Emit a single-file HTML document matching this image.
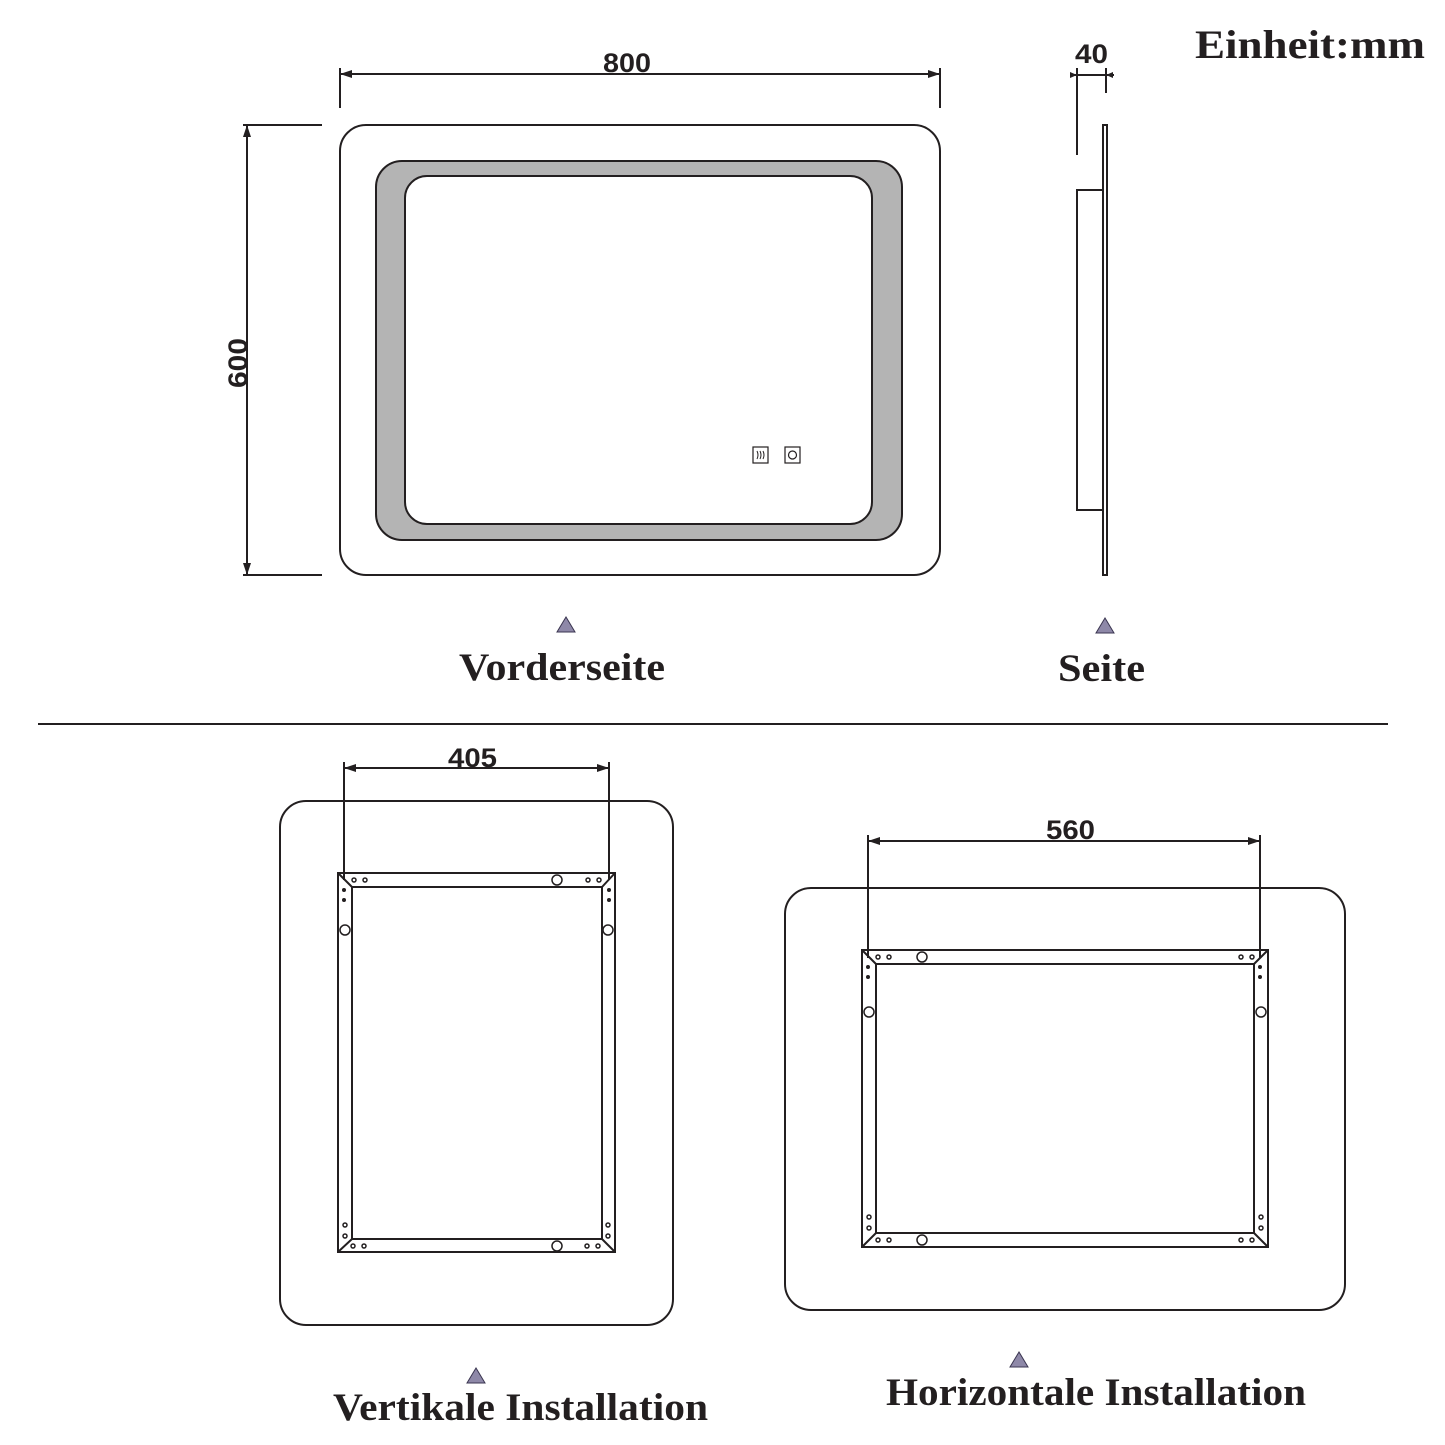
<!DOCTYPE html>
<html><head><meta charset="utf-8"><style>
html,body{margin:0;padding:0;background:#fff;}
svg{display:block}
.d{font-family:"Liberation Sans",sans-serif;font-weight:bold;font-size:27px;fill:#231f20}
.s{font-family:"Liberation Serif",serif;font-weight:bold;fill:#231f20}
</style></head><body>
<svg width="1445" height="1445" viewBox="0 0 1445 1445" xmlns="http://www.w3.org/2000/svg">
<g stroke="#231f20" fill="none" stroke-width="2">
<rect x="340" y="125" width="600" height="450" rx="26"/>
<rect x="376" y="161" width="526" height="379" rx="26" fill="#b4b4b4"/>
<rect x="405" y="176" width="467" height="348" rx="22" fill="#fff"/>
<rect x="753" y="447" width="15" height="16" stroke-width="1.2"/>
<rect x="785" y="447" width="15" height="16" stroke-width="1.2"/>
<circle cx="792.5" cy="455" r="4" stroke-width="1.2"/>
<path d="M757 451q2 4 0 8M760 451q2 4 0 8M763 451q2 4 0 8" stroke-width="1"/>
<path d="M340 68V108M940 68V108M340 74H940"/>
<path d="M247 125V575M243 125H322M243 575H322"/>
<path d="M1077 68V155M1106 68V93M1070 75H1114"/>
<rect x="1103" y="125" width="4" height="450"/>
<path d="M1103 190H1077V510H1103"/>
<path d="M38 724H1388"/>
<rect x="280" y="801" width="393" height="524" rx="26"/>
<rect x="338" y="873" width="277" height="379"/>
<rect x="352" y="887" width="250" height="352"/>
<path d="M338 873L352 887M615 873L602 887M338 1252L352 1239M615 1252L602 1239"/>
<path d="M344 762V880M609 762V880M344 768H609"/>
<rect x="785" y="888" width="560" height="422" rx="26"/>
<rect x="862" y="950" width="406" height="297"/>
<rect x="876" y="964" width="378" height="269"/>
<path d="M862 950L876 964M1268 950L1254 964M862 1247L876 1233M1268 1247L1254 1233"/>
<path d="M868 835V958M1260 835V958M868 841H1260"/>
</g>
<g fill="none" stroke="#231f20" stroke-width="1.5">
<circle cx="354" cy="880" r="2"/><circle cx="365" cy="880" r="2"/>
<circle cx="588" cy="880" r="2"/><circle cx="599" cy="880" r="2"/>
<circle cx="353" cy="1246" r="2"/><circle cx="364" cy="1246" r="2"/>
<circle cx="587" cy="1246" r="2"/><circle cx="598" cy="1246" r="2"/>
<circle cx="345" cy="1225" r="2"/><circle cx="345" cy="1236" r="2"/>
<circle cx="608" cy="1225" r="2"/><circle cx="608" cy="1236" r="2"/>
<circle cx="557" cy="880" r="5"/><circle cx="557" cy="1246" r="5"/>
<circle cx="345" cy="930" r="5"/><circle cx="608" cy="930" r="5"/>
<circle cx="878" cy="957" r="2"/><circle cx="889" cy="957" r="2"/>
<circle cx="1241" cy="957" r="2"/><circle cx="1252" cy="957" r="2"/>
<circle cx="878" cy="1240" r="2"/><circle cx="889" cy="1240" r="2"/>
<circle cx="1241" cy="1240" r="2"/><circle cx="1252" cy="1240" r="2"/>
<circle cx="869" cy="1217" r="2"/><circle cx="869" cy="1228" r="2"/>
<circle cx="1261" cy="1217" r="2"/><circle cx="1261" cy="1228" r="2"/>
<circle cx="922" cy="957" r="5"/><circle cx="922" cy="1240" r="5"/>
<circle cx="869" cy="1012" r="5"/><circle cx="1261" cy="1012" r="5"/>
</g>
<g fill="#231f20"><circle cx="344" cy="890" r="2"/><circle cx="344" cy="900" r="2"/>
<circle cx="609" cy="890" r="2"/><circle cx="609" cy="900" r="2"/>
<circle cx="868" cy="967" r="2"/><circle cx="868" cy="977" r="2"/>
<circle cx="1260" cy="967" r="2"/><circle cx="1260" cy="977" r="2"/></g>
<g fill="#231f20"><path d="M340 74l12-4v8zM940 74l-12-4v8zM247 125l-4 12h8zM247 575l-4-12h8zM344 768l12-4v8zM609 768l-12-4v8zM868 841l12-4v8zM1260 841l-12-4v8zM1077 75l-7-3v6zM1106 75l7-3v6z"/></g>
<g fill="#8e88a8" stroke="#3a3550" stroke-width="1"><path d="M566 617l-9 15h18z"/><path d="M1105 618l-9 15h18z"/><path d="M476 1368l-9 15h18z"/><path d="M1019 1352l-9 15h18z"/></g>
<text class="d" x="603" y="72" textLength="48" lengthAdjust="spacingAndGlyphs">800</text>
<text class="d" x="1075" y="63" textLength="33" lengthAdjust="spacingAndGlyphs">40</text>
<text class="d" transform="translate(247,338) rotate(-90)" x="-50" y="0" textLength="50" lengthAdjust="spacingAndGlyphs">600</text>
<text class="d" x="448" y="767" textLength="49" lengthAdjust="spacingAndGlyphs">405</text>
<text class="d" x="1046" y="839" textLength="49" lengthAdjust="spacingAndGlyphs">560</text>
<text class="s" x="1195" y="58" font-size="40" textLength="230" lengthAdjust="spacingAndGlyphs">Einheit:mm</text>
<text class="s" x="459" y="680" font-size="39" textLength="206" lengthAdjust="spacingAndGlyphs">Vorderseite</text>
<text class="s" x="1058" y="681" font-size="39" textLength="87" lengthAdjust="spacingAndGlyphs">Seite</text>
<text class="s" x="333" y="1420" font-size="39" textLength="375" lengthAdjust="spacingAndGlyphs">Vertikale Installation</text>
<text class="s" x="886" y="1405" font-size="39" textLength="420" lengthAdjust="spacingAndGlyphs">Horizontale Installation</text>
</svg>
</body></html>
